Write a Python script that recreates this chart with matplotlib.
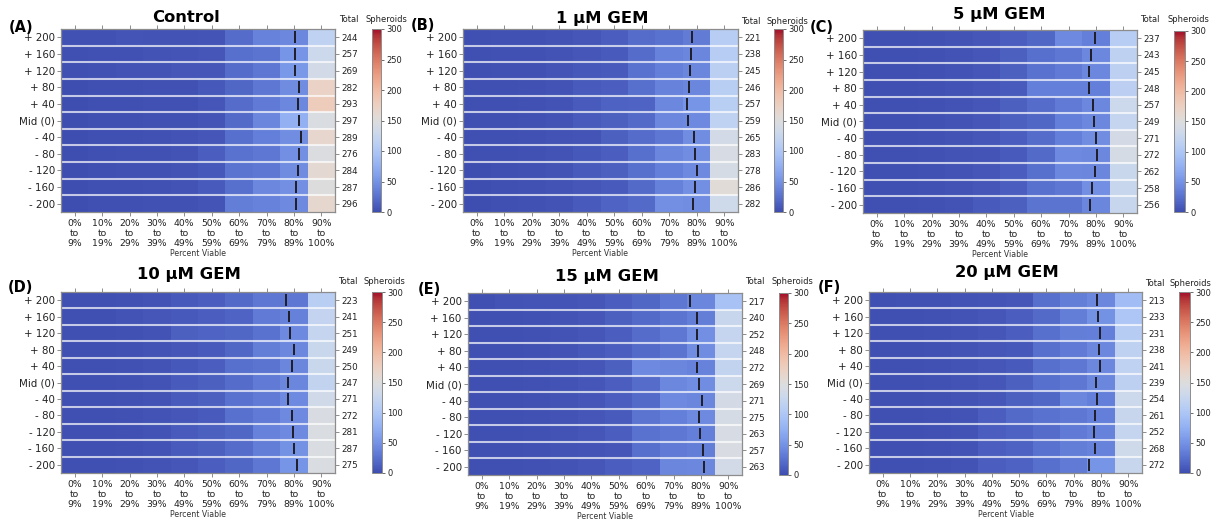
import numpy as np
import matplotlib
matplotlib.use("Agg")
import matplotlib.pyplot as plt
from matplotlib import colors

# ---------------------------------------------------------------- data
row_labels = ["+ 200", "+ 160", "+ 120", "+ 80", "+ 40", "Mid (0)",
              "- 40", "- 80", "- 120", "- 160", "- 200"]
bin_labels = ["0%\nto\n9%", "10%\nto\n19%", "20%\nto\n29%", "30%\nto\n39%",
              "40%\nto\n49%", "50%\nto\n59%", "60%\nto\n69%", "70%\nto\n79%",
              "80%\nto\n89%", "90%\nto\n100%"]

titles = ["Control", "1 µM GEM", "5 µM GEM", "10 µM GEM", "15 µM GEM", "20 µM GEM"]
letters = ["(A)", "(B)", "(C)", "(D)", "(E)", "(F)"]

# spheroid counts per viability bin (rows: +200 ... -200)
counts_control = [
    [3, 3, 5, 4, 4, 5, 22, 38, 42, 118],
    [2, 3, 3, 4, 5, 6, 24, 28, 52, 130],
    [2, 3, 4, 4, 6, 7, 22, 30, 55, 136],
    [1, 2, 2, 3, 3, 8, 18, 30, 45, 170],
    [1, 2, 2, 3, 3, 6, 22, 32, 42, 180],
    [1, 2, 2, 3, 3, 5, 20, 40, 75, 146],
    [1, 2, 2, 3, 4, 6, 24, 36, 46, 165],
    [1, 2, 3, 3, 4, 12, 26, 30, 48, 147],
    [1, 2, 3, 3, 4, 8, 28, 30, 45, 160],
    [1, 2, 2, 3, 4, 10, 24, 42, 48, 151],
    [1, 2, 2, 3, 3, 5, 34, 38, 44, 164],
]
counts_gem1 = [
    [2, 3, 3, 4, 6, 12, 22, 26, 33, 110],
    [2, 3, 3, 4, 6, 10, 22, 38, 40, 110],
    [2, 3, 3, 5, 8, 10, 26, 36, 40, 112],
    [2, 2, 3, 4, 10, 12, 24, 38, 40, 111],
    [2, 2, 3, 4, 10, 15, 16, 42, 52, 111],
    [2, 2, 3, 4, 10, 14, 20, 42, 44, 118],
    [2, 2, 3, 4, 5, 14, 22, 30, 46, 137],
    [2, 2, 3, 4, 8, 12, 24, 40, 46, 142],
    [1, 2, 3, 4, 10, 14, 24, 36, 44, 140],
    [1, 2, 3, 4, 6, 10, 20, 37, 48, 155],
    [1, 2, 3, 4, 10, 16, 20, 48, 46, 132],
]
counts_gem5 = [
    [2, 2, 3, 4, 7, 12, 18, 44, 36, 109],
    [2, 2, 3, 4, 6, 14, 24, 30, 42, 116],
    [2, 2, 3, 4, 6, 14, 26, 32, 42, 114],
    [2, 2, 3, 4, 6, 10, 36, 36, 36, 113],
    [2, 2, 3, 4, 6, 14, 22, 32, 42, 130],
    [2, 2, 3, 4, 6, 14, 18, 36, 42, 122],
    [2, 2, 3, 4, 6, 12, 22, 36, 46, 138],
    [2, 2, 3, 4, 5, 10, 20, 44, 42, 140],
    [2, 2, 3, 4, 6, 12, 24, 42, 40, 127],
    [2, 2, 3, 4, 6, 12, 25, 30, 48, 126],
    [2, 2, 3, 4, 10, 14, 27, 28, 40, 126],
]
counts_gem10 = [
    [2, 2, 3, 4, 9, 12, 20, 30, 30, 111],
    [2, 2, 4, 7, 9, 12, 16, 32, 37, 120],
    [2, 2, 3, 4, 14, 16, 18, 26, 44, 122],
    [2, 2, 3, 4, 6, 10, 18, 35, 42, 127],
    [2, 2, 3, 4, 8, 12, 24, 28, 40, 127],
    [2, 2, 3, 4, 10, 13, 22, 32, 40, 119],
    [2, 2, 3, 4, 10, 14, 26, 32, 44, 134],
    [2, 2, 3, 4, 6, 10, 25, 32, 44, 144],
    [2, 2, 3, 4, 10, 14, 18, 38, 44, 146],
    [2, 2, 3, 4, 10, 14, 22, 34, 50, 146],
    [2, 2, 3, 4, 6, 12, 18, 30, 52, 146],
]
counts_gem15 = [
    [2, 4, 5, 5, 7, 12, 18, 30, 40, 94],
    [2, 2, 3, 4, 6, 14, 20, 28, 35, 126],
    [2, 2, 3, 4, 6, 12, 22, 30, 48, 123],
    [2, 2, 3, 4, 8, 12, 20, 28, 46, 123],
    [2, 2, 3, 4, 6, 14, 44, 40, 38, 119],
    [2, 2, 3, 4, 6, 12, 22, 42, 46, 130],
    [2, 2, 3, 4, 6, 12, 20, 44, 40, 138],
    [2, 2, 3, 4, 6, 10, 28, 36, 44, 140],
    [2, 2, 3, 4, 6, 12, 26, 30, 36, 142],
    [2, 2, 3, 4, 5, 6, 24, 32, 35, 144],
    [2, 2, 3, 4, 6, 12, 16, 40, 42, 136],
]
counts_gem20 = [
    [2, 3, 3, 4, 5, 6, 24, 34, 42, 90],
    [2, 2, 3, 4, 6, 12, 20, 34, 50, 100],
    [2, 2, 3, 4, 6, 12, 24, 34, 36, 108],
    [2, 2, 3, 4, 6, 8, 24, 32, 42, 115],
    [2, 2, 3, 4, 6, 10, 24, 30, 42, 118],
    [2, 2, 3, 4, 6, 14, 24, 30, 40, 114],
    [2, 2, 3, 4, 6, 14, 18, 40, 36, 129],
    [2, 2, 3, 4, 12, 20, 26, 30, 36, 126],
    [2, 2, 3, 4, 12, 15, 22, 32, 38, 122],
    [2, 2, 3, 4, 12, 15, 26, 34, 38, 132],
    [2, 2, 3, 4, 12, 15, 24, 32, 52, 126],
]

# mean percent viable for each row
mean_control = [85.4, 85.4, 85.4, 87.0, 86.6, 86.9, 87.5, 87.0, 86.6, 85.6, 85.7]
mean_gem1 = [83.4, 83.0, 82.4, 82.1, 81.6, 81.9, 83.9, 84.2, 85.2, 84.2, 83.5]
mean_gem5 = [84.5, 83.1, 82.5, 82.4, 83.9, 84.3, 84.9, 85.3, 84.7, 83.5, 83.0]
mean_gem10 = [82.1, 83.2, 83.5, 84.9, 84.4, 82.7, 83.0, 84.4, 84.5, 85.0, 86.0]
mean_gem15 = [81.0, 83.6, 83.7, 84.1, 83.5, 84.4, 85.4, 84.2, 84.8, 85.8, 86.1]
mean_gem20 = [83.5, 83.7, 84.5, 84.1, 84.5, 83.3, 83.4, 82.8, 82.4, 82.9, 80.6]

all_counts = [counts_control, counts_gem1, counts_gem5,
              counts_gem10, counts_gem15, counts_gem20]
all_means = [mean_control, mean_gem1, mean_gem5,
             mean_gem10, mean_gem15, mean_gem20]

# ---------------------------------------------------------------- layout (pixels)
W, H = 1216, 523
# axes box, colorbar box, title xy, letter xy, header y, "Total" x, "Spheroids" x
layout = [
    dict(ax=(61, 29, 335, 212), cb=(372, 29, 381, 212), title=(186, 18), letter=(21, 27), hy=20, tx=349, sx=386),
    dict(ax=(463, 29, 738, 212), cb=(774, 29, 783, 212), title=(602, 18), letter=(423, 26), hy=21, tx=751, sx=787),
    dict(ax=(863, 30, 1137, 213), cb=(1174, 31, 1185, 212), title=(999, 14), letter=(822, 28), hy=19, tx=1150, sx=1188),
    dict(ax=(61, 292, 335, 473), cb=(372, 292, 382, 473), title=(189, 275), letter=(20, 288), hy=281, tx=348, sx=384),
    dict(ax=(468, 293, 742, 475), cb=(779, 293, 788, 475), title=(607, 277), letter=(429, 289), hy=282, tx=755, sx=792),
    dict(ax=(869, 292, 1142, 473), cb=(1179, 292, 1190, 473), title=(1007, 272), letter=(829, 287), hy=283, tx=1155, sx=1190),
]


def box(b):
    x0, y0, x1, y1 = b
    return [x0 / W, 1 - y1 / H, (x1 - x0) / W, (y1 - y0) / H]


def fx(x):
    return x / W


def fy(y):
    return 1 - y / H


def muted(name, sat=0.85):
    """A copy of a colormap with its colours pulled toward their own grey level."""
    rgb = plt.get_cmap(name)(np.linspace(0, 1, 256))[:, :3]
    lum = (rgb @ np.array([0.299, 0.587, 0.114]))[:, None]
    out = np.clip(lum + sat * (rgb - lum), 0, 1)
    return colors.ListedColormap(out, name=name + "_muted")


plt.rcParams["font.family"] = ["DejaVu Sans"]
spine_col = "#8c8c8c"
cmap = muted("coolwarm")
norm = colors.Normalize(vmin=0, vmax=300)

fig = plt.figure(figsize=(W / 100, H / 100), dpi=100)

for k in range(6):
    L = layout[k]
    data = np.array(all_counts[k], dtype=float)
    nrow, ncol = data.shape
    ax = fig.add_axes(box(L["ax"]))
    mesh = ax.pcolormesh(np.arange(ncol + 1), np.arange(nrow + 1), data,
                         cmap=cmap, norm=norm, shading="flat")
    ax.set_xlim(0, ncol)
    ax.set_ylim(nrow, 0)

    # row separators
    for r in range(1, nrow):
        ax.axhline(r, color="white", lw=1.5, alpha=0.7)

    # mean viability markers
    for r, m in enumerate(all_means[k]):
        ax.plot([m / 10, m / 10], [r + 0.15, r + 0.85], color="#1e1e28", lw=1.4,
                solid_capstyle="butt")

    ax.set_xticks(np.arange(ncol) + 0.5)
    ax.set_xticklabels(bin_labels, fontsize=6.7, color="#222222", linespacing=1.15)
    ax.set_yticks(np.arange(nrow) + 0.5)
    ax.set_yticklabels(row_labels, fontsize=7.4, color="#222222")
    ax.tick_params(axis="x", which="both", top=True, bottom=True, length=3,
                   width=0.7, color=spine_col, pad=2)
    ax.tick_params(axis="y", length=3, width=0.7, color=spine_col, pad=1.5)
    ax.set_xlabel("Percent Viable", fontsize=5.6, color="#333333", labelpad=1)
    for s in ax.spines.values():
        s.set_color(spine_col)
        s.set_linewidth(0.9)

    # row totals on the right
    ax2 = ax.twinx()
    ax2.set_ylim(nrow, 0)
    ax2.set_yticks(np.arange(nrow) + 0.5)
    ax2.set_yticklabels([str(int(t)) for t in data.sum(axis=1)], fontsize=6.3,
                        color="#222222")
    ax2.tick_params(axis="y", length=3, width=0.7, color=spine_col, pad=1.5)
    for s in ax2.spines.values():
        s.set_visible(False)

    # colorbar
    cax = fig.add_axes(box(L["cb"]))
    cb = fig.colorbar(mesh, cax=cax, ticks=np.arange(0, 301, 50))
    cb.ax.tick_params(labelsize=6.0, length=2.5, width=0.6, color="#555555",
                      labelcolor="#222222", pad=1.5)
    cb.outline.set_edgecolor(spine_col)
    cb.outline.set_linewidth(0.7)

    fig.text(fx(L["title"][0]), fy(L["title"][1]), titles[k], fontsize=11.8,
             fontweight="bold", ha="center", va="center")
    fig.text(fx(L["letter"][0]), fy(L["letter"][1]), letters[k], fontsize=10.5,
             fontweight="bold", ha="center", va="center")
    fig.text(fx(L["tx"]), fy(L["hy"]), "Total", fontsize=6.0, ha="center",
             va="center", color="#222222")
    fig.text(fx(L["sx"]), fy(L["hy"]), "Spheroids", fontsize=6.0, ha="center",
             va="center", color="#222222")

fig.savefig("out.png", dpi=100)
